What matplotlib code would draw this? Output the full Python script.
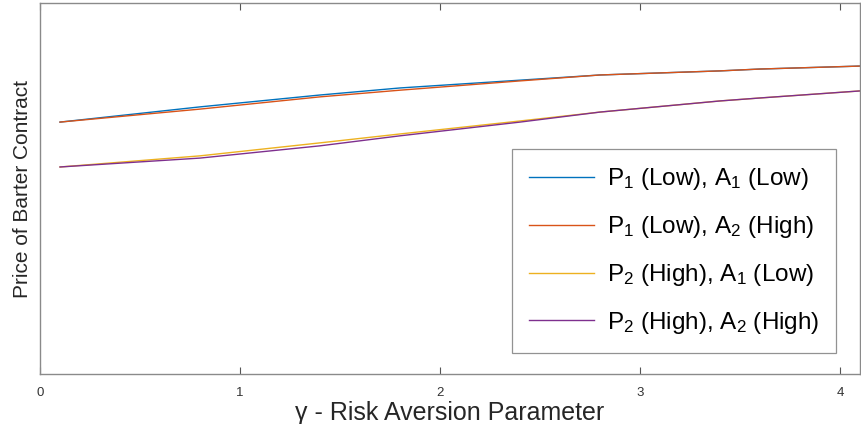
import matplotlib.pyplot as plt

plt.rcParams['font.family'] = ['Liberation Sans', 'DejaVu Sans']
plt.rcParams['mathtext.fontset'] = 'custom'
plt.rcParams['mathtext.rm'] = 'Liberation Sans'
plt.rcParams['mathtext.it'] = 'Liberation Sans'

# gamma values
gamma = [0.1, 0.8, 1.4, 1.8, 2.4, 2.8, 3.4, 3.6, 4.1]

# price of barter contract (arbitrary units, axis has no y ticks)
p1_a1 = [0.679, 0.720, 0.752, 0.771, 0.792, 0.806, 0.817, 0.822, 0.830]
p1_a2 = [0.679, 0.714, 0.747, 0.765, 0.790, 0.806, 0.817, 0.822, 0.830]
p2_a1 = [0.558, 0.588, 0.623, 0.647, 0.682, 0.706, 0.736, 0.744, 0.763]
p2_a2 = [0.558, 0.582, 0.615, 0.642, 0.679, 0.706, 0.736, 0.744, 0.763]

labels = ['P$_1$ (Low), A$_1$ (Low)', 'P$_1$ (Low), A$_2$ (High)',
          'P$_2$ (High), A$_1$ (Low)', 'P$_2$ (High), A$_2$ (High)']
colors = ['#0072BD', '#D95319', '#EDB120', '#7E2F8E']

fig = plt.figure(figsize=(8.62, 4.24), dpi=100)
ax = fig.add_axes([40 / 862, 50 / 424, 820 / 862, 371 / 424])

for y, lab, c in zip([p1_a1, p1_a2, p2_a1, p2_a2], labels, colors):
    ax.plot(gamma, y, color=c, lw=1.0, label=lab)

ax.set_xlim(0, 4.1)
ax.set_ylim(0, 1)
ax.set_xticks([0, 1, 2, 3, 4])
ax.set_yticks([])
ax.tick_params(axis='x', direction='in', top=True, length=5, width=0.8,
               color='#555555', labelsize=9.5, labelcolor='#333333', pad=9)
for s in ax.spines.values():
    s.set_color('#8a8a8a')
    s.set_linewidth(1.0)

ax.set_xlabel('γ - Risk Aversion Parameter', fontsize=18, color='#262626', labelpad=2)
ax.set_ylabel('Price of Barter Contract', fontsize=15, color='#262626', labelpad=6)

leg = ax.legend(loc='lower right', bbox_to_anchor=(0.9707, 0.0566), fontsize=17.5,
                frameon=True, fancybox=False, edgecolor='#777777',
                handlelength=2.7, handletextpad=0.5, labelspacing=0.9,
                borderpad=0.7, borderaxespad=0)
leg.get_frame().set_linewidth(0.9)

fig.savefig('out.png', dpi=100)
